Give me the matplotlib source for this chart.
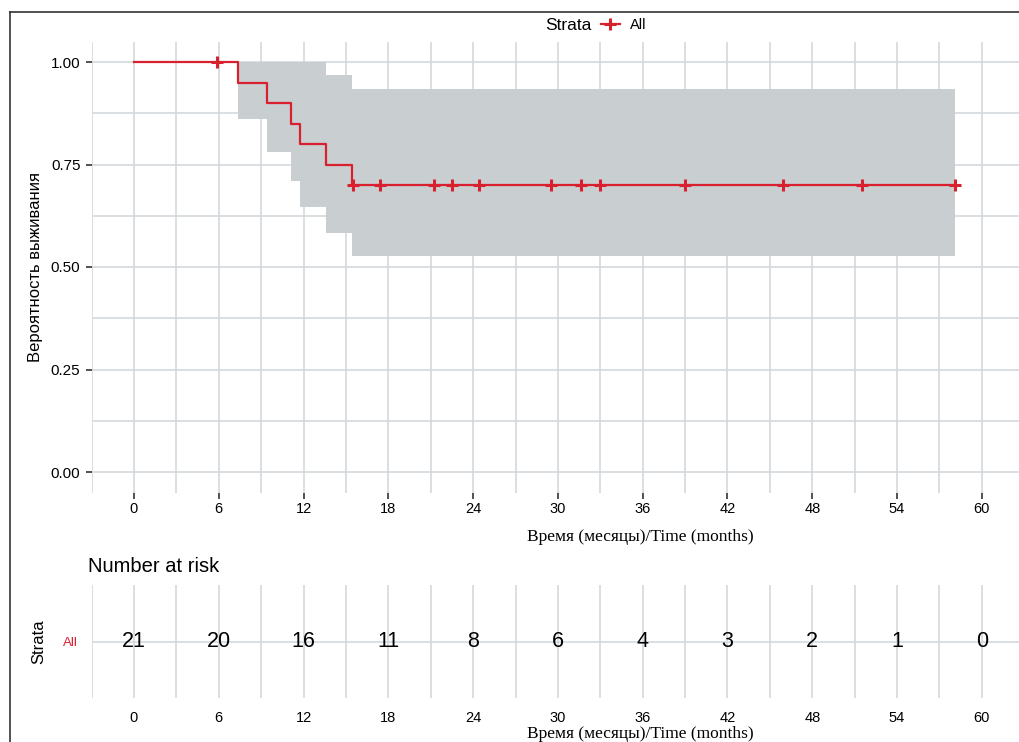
import matplotlib
matplotlib.use('Agg')
import matplotlib.pyplot as plt
from matplotlib.lines import Line2D
import numpy as np

plt.rcParams['font.family'] = ['Liberation Sans', 'DejaVu Sans']

# Kaplan-Meier curve
step_time = [0, 7.33, 9.39, 11.09, 11.75, 13.56, 15.45, 58.1]
surv = [1.0, 0.95, 0.90, 0.85, 0.80, 0.75, 0.70, 0.70]
ci_lower = [1.0, 0.862, 0.780, 0.710, 0.646, 0.583, 0.528, 0.528]
ci_upper = [1.0, 1.0, 1.0, 1.0, 1.0, 0.968, 0.934, 0.934]

# censored points
censor_time = [5.85, 15.5, 17.4, 21.2, 22.5, 24.4, 29.5, 31.6, 33.0, 39.0, 45.9, 51.5, 58.1]
censor_surv = [1.0, 0.7, 0.7, 0.7, 0.7, 0.7, 0.7, 0.7, 0.7, 0.7, 0.7, 0.7, 0.7]

# number at risk table
risk_time = [0, 6, 12, 18, 24, 30, 36, 42, 48, 54, 60]
risk_n = [21, 20, 16, 11, 8, 6, 4, 3, 2, 1, 0]

x_ticks = [0, 6, 12, 18, 24, 30, 36, 42, 48, 54, 60]
y_ticks = [0.0, 0.25, 0.50, 0.75, 1.0]

red = '#D8202F'
band = '#C9CED1'
grid = '#D0D6DB'

W, H = 1020, 742
fig = plt.figure(figsize=(W / 100, H / 100), dpi=100)

def px(x0, y0, x1, y1):
    return [x0 / W, 1 - y1 / H, (x1 - x0) / W, (y1 - y0) / H]

# ---- survival plot ----
ax = fig.add_axes(px(91.6, 41.5, 1020, 492.5))
ax.set_xlim(-3, 62.7)
ax.set_ylim(-0.05, 1.05)
ax.fill_between(step_time, ci_lower, ci_upper, step='post', color=band, lw=0, zorder=1)
ax.step(step_time, surv, where='post', color=red, lw=1.6, zorder=3)
ax.plot(censor_time, censor_surv, ls='none', marker='+', ms=9, mew=2.2, color=red, zorder=4)

ax.set_xticks(x_ticks)
ax.set_xticks(np.arange(-3, 63, 6), minor=True)
ax.set_yticks(y_ticks)
ax.set_yticks([0.125, 0.375, 0.625, 0.875], minor=True)
ax.set_yticklabels(['0.00', '0.25', '0.50', '0.75', '1.00'])
ax.grid(True, which='both', color=grid, lw=1.1, zorder=0)
ax.set_axisbelow(True)
for s in ax.spines.values():
    s.set_visible(False)
ax.tick_params(axis='x', which='major', length=4, width=1.2, color='#333333', labelsize=10.5, pad=3)
ax.tick_params(axis='y', which='major', length=4, width=1.2, color='#333333', labelsize=11, pad=4)
ax.tick_params(which='minor', length=0)
ax.set_ylabel('Вероятность выживания', fontsize=12, labelpad=6)

fig.text(640 / W, 1 - 537 / H, 'Время (месяцы)/Time (months)', ha='center', va='center',
         fontsize=12.5, family='Liberation Serif')

# legend on top
fig.text(592 / W, 1 - 25 / H, 'Strata', ha='right', va='center', fontsize=12.5)
fig.legend(handles=[Line2D([], [], color=red, lw=1.6, marker='+', ms=9, mew=2.2)],
           labels=['All'], loc='center left', bbox_to_anchor=(601 / W, 1 - 25 / H),
           frameon=False, handlelength=1.3, handletextpad=0.7, fontsize=10.5,
           borderaxespad=0, borderpad=0)

# ---- risk table ----
fig.text(88 / W, 1 - 566 / H, 'Number at risk', ha='left', va='center', fontsize=14.5)

rax = fig.add_axes(px(91.6, 585, 1020, 698))
rax.set_xlim(-3, 62.7)
rax.set_ylim(0.5, 1.5)
for t, n in zip(risk_time, risk_n):
    rax.text(t, 1, str(n), ha='center', va='center', fontsize=15.5)
rax.set_xticks(x_ticks)
rax.set_xticks(np.arange(-3, 63, 6), minor=True)
rax.set_yticks([1])
rax.set_yticklabels(['All'])
rax.get_yticklabels()[0].set_color(red)
rax.grid(True, which='both', color=grid, lw=1.1, zorder=0)
rax.set_axisbelow(True)
for s in rax.spines.values():
    s.set_visible(False)
rax.tick_params(axis='x', which='major', length=0, labelsize=10.5, pad=9)
rax.tick_params(axis='y', length=0, labelsize=9.5, pad=10)
rax.tick_params(which='minor', length=0)
rax.set_ylabel('Strata', fontsize=12, labelpad=12)

fig.text(640 / W, 1 - 734 / H, 'Время (месяцы)/Time (months)', ha='center', va='center',
         fontsize=12.5, family='Liberation Serif')

# scan frame lines
fig.add_artist(Line2D([10 / W, 10 / W], [0, 1 - 12 / H], color='#333333', lw=1.2))
fig.add_artist(Line2D([10 / W, 1], [1 - 12 / H, 1 - 12 / H], color='#333333', lw=1.2))

fig.savefig('out.png', dpi=100)
